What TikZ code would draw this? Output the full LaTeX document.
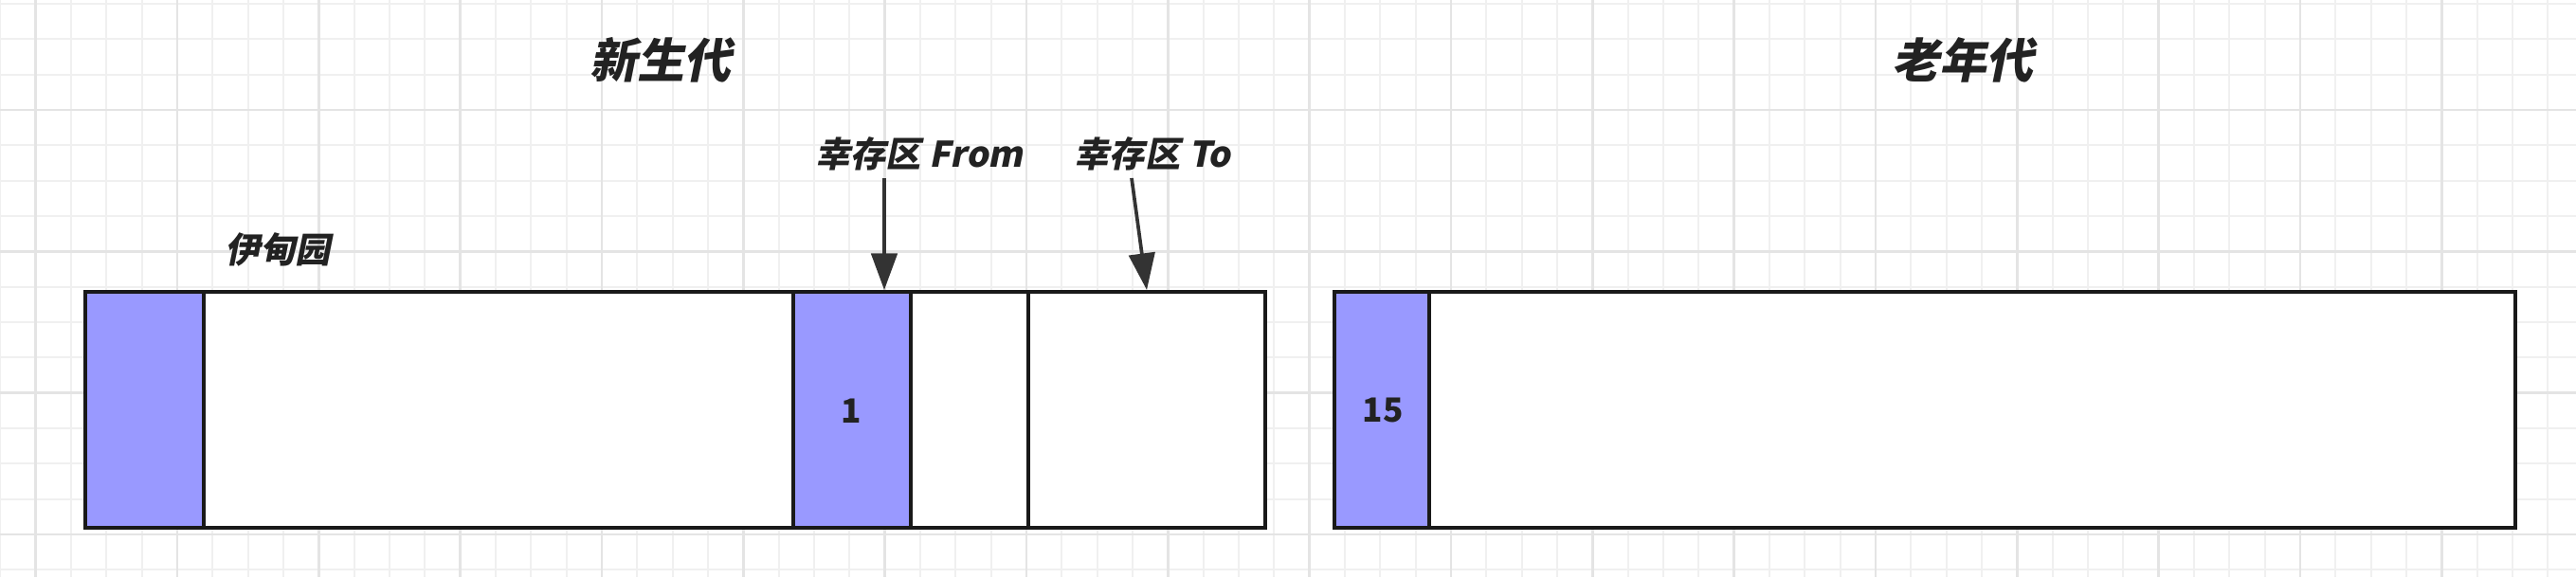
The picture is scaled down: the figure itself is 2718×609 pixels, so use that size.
\documentclass[tikz,border=0pt]{standalone}
\usepackage{fontspec}
\usetikzlibrary{arrows.meta}
\newfontfamily\cjkbi{Noto Sans CJK SC}[FakeSlant=0.2]
\newfontfamily\cjkup{Noto Sans CJK SC}
\definecolor{gridminor}{RGB}{240,240,240}
\definecolor{gridmajor}{RGB}{228,228,228}
\definecolor{seglila}{RGB}{153,153,255}
\definecolor{inkdark}{RGB}{34,34,34}
\definecolor{arrowdark}{RGB}{51,51,51}
\newdimen\pxu
\pxu=0.01cm
\tikzset{
  segbox/.style={draw=black!90, line width=1pt, anchor=north west, inner sep=0pt, outer sep=0pt, minimum height={249*\pxu}},
  lilaseg/.style={segbox, fill=seglila},
  whiteseg/.style={segbox, fill=white},
  titletext/.style={font=\cjkbi\bfseries\fontsize{14.2}{17}\selectfont, text=inkdark, inner sep=0pt},
  labeltext/.style={font=\cjkbi\bfseries\fontsize{10.6}{13}\selectfont, text=inkdark, inner sep=0pt},
  numtext/.style={font=\cjkup\bfseries\fontsize{10}{12}\selectfont, text=inkdark, inner sep=0pt},
  pointer/.style={draw=arrowdark, line width=1.05pt, -{Triangle[length=11pt, width=7.8pt]}},
}
\begin{document}
\begin{tikzpicture}[x=0.01cm, y=-0.01cm]
\useasboundingbox (0,0) rectangle (2718,609);
\fill[white] (0,0) rectangle (2718,609);
% grid
\foreach \j in {-5,...,67} {
  \draw[gridminor, line width=0.55pt] ({187+37.333*\j},0) -- ({187+37.333*\j},609);
}
\foreach \j in {-3,...,13} {
  \draw[gridminor, line width=0.55pt] (0,{116+37.333*\j}) -- (2718,{116+37.333*\j});
}
\foreach \j in {-4,0,...,64} {
  \draw[gridmajor, line width=0.8pt] ({187+37.333*\j},0) -- ({187+37.333*\j},609);
}
\foreach \j in {0,4,8,12} {
  \draw[gridmajor, line width=0.8pt] (0,{116+37.333*\j}) -- (2718,{116+37.333*\j});
}
% young generation
\node[lilaseg, minimum width={125*\pxu}] (eden1) at (90,308) {};
\node[whiteseg, minimum width={622*\pxu}] (eden2) at (215,308) {};
\node[lilaseg, minimum width={124*\pxu}] (from) at (837,308) {};
\node[whiteseg, minimum width={124*\pxu}] (mid) at (961,308) {};
\node[whiteseg, minimum width={250*\pxu}] (to) at (1085,308) {};
% old generation
\node[lilaseg, minimum width={100*\pxu}] (old1) at (1408,308) {};
\node[whiteseg, minimum width={1146*\pxu}] (old2) at (1508,308) {};
% numbers
\node[numtext] (n1) at (898,434) {1};
\node[numtext] (n15) at (1459,433) {15};
% titles
\node[titletext] (young) at (697,63) {新生代};
\node[titletext] (old) at (2071,63) {老年代};
% labels
\node[labeltext] (edenlbl) at (293,263) {伊甸园};
\node[labeltext] (fromlbl) at (970,162) {幸存区 From};
\node[labeltext] (tolbl) at (1216,162) {幸存区 To};
% arrows
\coordinate (fromtail) at (933,188);
\coordinate (fromtip) at (933,306);
\coordinate (totail) at (1194,188);
\coordinate (totip) at (1210,306);
\draw[pointer] (fromtail) -- (fromtip);
\draw[pointer] (totail) -- (totip);
\end{tikzpicture}
\end{document}
